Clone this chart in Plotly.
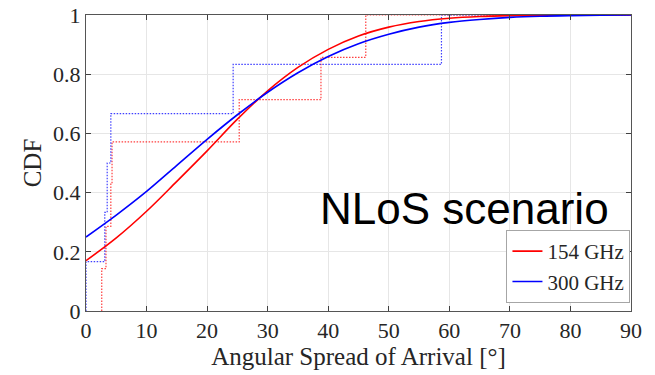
import plotly.graph_objects as go

# Fitted CDF curves
fit_x = [0, 5, 10, 15, 20, 25, 30, 35, 40, 45, 50, 55, 60, 65, 70, 75, 80, 85, 90]
fit_154 = [0.17, 0.247, 0.337, 0.438, 0.541, 0.648, 0.744, 0.823, 0.884, 0.929, 0.959, 0.978, 0.989, 0.995, 0.998, 0.999, 1.0, 1.0, 1.0]
fit_300 = [0.25, 0.324, 0.404, 0.492, 0.580, 0.663, 0.739, 0.805, 0.860, 0.903, 0.935, 0.959, 0.975, 0.985, 0.992, 0.996, 0.998, 0.999, 1.0]

# Measured angular spreads (empirical CDF samples)
meas_154 = [2.6, 3.3, 4.1, 4.3, 25.3, 38.8, 46.2]
meas_300 = [0.0, 3.1, 3.5, 4.1, 24.3, 58.7]

x_ticks = [0, 10, 20, 30, 40, 50, 60, 70, 80, 90]
y_ticks = [0, 0.2, 0.4, 0.6, 0.8, 1]

RED = "#ff0000"
BLUE = "#0000ff"


def ecdf(samples):
    s = sorted(samples)
    n = len(s)
    xs = [s[0]] + s + [90]
    ys = [0] + [(i + 1) / n for i in range(n)] + [1]
    return xs, ys


fig = go.Figure()

ex, ey = ecdf(meas_154)
fig.add_trace(go.Scatter(x=ex, y=ey, mode="lines", line=dict(color=RED, width=1.2, dash="1.5px,1.5px", shape="hv"),
                         opacity=0.75, showlegend=False, hoverinfo="skip"))
ex, ey = ecdf(meas_300)
fig.add_trace(go.Scatter(x=ex, y=ey, mode="lines", line=dict(color=BLUE, width=1.2, dash="1.5px,1.5px", shape="hv"),
                         opacity=0.75, showlegend=False, hoverinfo="skip"))

fig.add_trace(go.Scatter(x=fit_x, y=fit_154, mode="lines", name="154 GHz",
                         line=dict(color=RED, width=1.6, shape="spline")))
fig.add_trace(go.Scatter(x=fit_x, y=fit_300, mode="lines", name="300 GHz",
                         line=dict(color=BLUE, width=1.6, shape="spline")))

axis_font = dict(family="Liberation Serif", size=22, color="#262626")
title_font = dict(family="Liberation Serif", size=25, color="#262626")

fig.update_layout(
    width=655, height=375,
    margin=dict(l=86, r=24, t=15, b=64, autoexpand=False),
    paper_bgcolor="white", plot_bgcolor="white",
    font=dict(family="Liberation Serif", color="#262626"),
    xaxis=dict(range=[0, 90], tickvals=x_ticks, ticks="inside", ticklen=5, tickcolor="#404040",
               showline=True, linecolor="#555555", linewidth=1, mirror="ticks",
               showgrid=True, gridcolor="#e6e6e6", gridwidth=1, zeroline=False,
               tickfont=axis_font, automargin=False,
               title=dict(text="Angular Spread of Arrival [°]", font=title_font, standoff=2)),
    yaxis=dict(range=[0, 1], tickvals=y_ticks, ticks="inside", ticklen=5, tickcolor="#404040",
               showline=True, linecolor="#555555", linewidth=1, mirror="ticks",
               showgrid=True, gridcolor="#e6e6e6", gridwidth=1, zeroline=False,
               tickfont=axis_font, automargin=False,
               title=dict(text="CDF", font=title_font, standoff=4)),
    legend=dict(x=0.999, y=0.027, xanchor="right", yanchor="bottom",
                bgcolor="white", bordercolor="#a6a6a6", borderwidth=1,
                font=dict(family="Liberation Serif", size=21, color="#262626"),
                tracegroupgap=0, itemwidth=30),
    showlegend=True,
)

fig.add_annotation(x=0.695, y=0.345, xref="paper", yref="paper", text="NLoS scenario",
                   showarrow=False, xanchor="center", yanchor="middle",
                   font=dict(family="Liberation Sans", size=44, color="black"))

fig.write_html("out.html")
